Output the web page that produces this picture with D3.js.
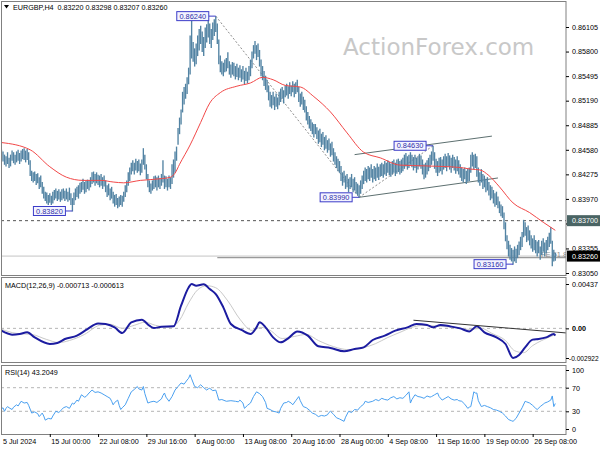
<!DOCTYPE html>
<html><head><meta charset="utf-8">
<script src="https://cdn.jsdelivr.net/npm/d3@7"></script>
<style>
html,body{margin:0;padding:0;background:#fff;}
svg{display:block;font-family:"Liberation Sans",Arial,sans-serif;}
</style></head><body>
<svg id="c" width="600" height="450"></svg>
<script>
// ---------------- DATA ----------------
const symbolTitle = "EURGBP,H4  0.83220 0.83298 0.83207 0.83260";
const macdTitle = "MACD(12,26,9) -0.000713 -0.000613";
const rsiTitle = "RSI(14) 43.2049";
const watermark = "ActionForex.com";

// H4 bars, 5 Jul 16:00 -> 30 Sep 20:00 (index 0..367)
const barLow = [
0.8446,0.8444,0.8440,0.8438,0.8441,0.8436,0.8438,0.8445,0.8442,0.8440,
0.8443,0.8445,0.8441,0.8444,0.8447,0.8446,0.8443,0.8446,0.8440,0.8426,
0.8420,0.8418,0.8420,0.8415,0.8417,0.8410,0.8412,0.8404,0.8398,0.8395,
0.8392,0.8390,0.8393,0.8390,0.8392,0.8396,0.8398,0.8395,0.8397,0.8394,
0.8396,0.8398,0.8395,0.8397,0.8394,0.8396,0.8390,0.8382,0.8390,0.8396,
0.8400,0.8398,0.8404,0.8406,0.8409,0.8404,0.8406,0.8410,0.8408,0.8412,
0.8416,0.8418,0.8414,0.8417,0.8415,0.8412,0.8414,0.8410,0.8413,0.8406,
0.8400,0.8402,0.8396,0.8398,0.8392,0.8388,0.8390,0.8386,0.8388,0.8390,
0.8388,0.8394,0.8400,0.8406,0.8414,0.8420,0.8428,0.8432,0.8428,0.8433,
0.8430,0.8432,0.8427,0.8430,0.8440,0.8434,0.8422,0.8412,0.8406,0.8404,
0.8408,0.8410,0.8412,0.8408,0.8412,0.8410,0.8414,0.8418,0.8410,0.8412,
0.8408,0.8412,0.8410,0.8416,0.8424,0.8430,0.8445,0.8465,0.8478,0.8490,
0.8505,0.8515,0.8522,0.8528,0.8540,0.8552,0.8572,0.8568,0.8562,0.8565,
0.8575,0.8582,0.8590,0.8580,0.8575,0.8585,0.8592,0.8598,0.8590,0.8585,
0.8595,0.8600,0.8605,0.8590,0.8565,0.8555,0.8552,0.8550,0.8555,0.8556,
0.8560,0.8552,0.8548,0.8552,0.8550,0.8546,0.8549,0.8545,0.8548,0.8543,
0.8546,0.8540,0.8544,0.8541,0.8545,0.8550,0.8560,0.8572,0.8578,0.8570,
0.8574,0.8562,0.8550,0.8545,0.8538,0.8533,0.8530,0.8520,0.8512,0.8510,
0.8514,0.8508,0.8512,0.8509,0.8514,0.8518,0.8522,0.8516,0.8524,0.8526,
0.8522,0.8528,0.8525,0.8530,0.8524,0.8528,0.8530,0.8518,0.8512,0.8515,
0.8508,0.8505,0.8495,0.8490,0.8485,0.8482,0.8478,0.8474,0.8478,0.8472,
0.8466,0.8468,0.8462,0.8465,0.8458,0.8460,0.8455,0.8458,0.8450,0.8452,
0.8444,0.8440,0.8436,0.8432,0.8430,0.8420,0.8414,0.8418,0.8410,0.8412,
0.8406,0.8410,0.8412,0.8406,0.8408,0.8404,0.8402,0.8399,0.8404,0.8410,
0.8416,0.8420,0.8418,0.8422,0.8420,0.8424,0.8418,0.8422,0.8420,0.8424,
0.8421,0.8425,0.8426,0.8424,0.8428,0.8426,0.8430,0.8427,0.8425,0.8428,
0.8430,0.8426,0.8429,0.8431,0.8428,0.8430,0.8432,0.8435,0.8438,0.8434,
0.8436,0.8440,0.8437,0.8433,0.8436,0.8430,0.8434,0.8438,0.8435,0.8428,
0.8422,0.8424,0.8428,0.8432,0.8436,0.8440,0.8445,0.8435,0.8430,0.8426,
0.8430,0.8432,0.8428,0.8434,0.8436,0.8432,0.8438,0.8434,0.8430,0.8436,
0.8433,0.8429,0.8432,0.8428,0.8424,0.8420,0.8418,0.8422,0.8416,0.8419,
0.8420,0.8430,0.8438,0.8434,0.8436,0.8425,0.8418,0.8414,0.8418,0.8410,
0.8412,0.8406,0.8408,0.8402,0.8396,0.8398,0.8392,0.8388,0.8390,0.8386,
0.8380,0.8376,0.8374,0.8360,0.8345,0.8335,0.8326,0.8322,0.8320,0.8316,
0.8320,0.8318,0.8324,0.8328,0.8334,0.8338,0.8350,0.8352,0.8344,0.8346,
0.8340,0.8336,0.8332,0.8334,0.8330,0.8326,0.8330,0.8322,0.8328,0.8332,
0.8326,0.8330,0.8334,0.8338,0.8342,0.8314,0.8320,0.83207];
const barHigh = [
0.8458,0.8456,0.8452,0.8450,0.8455,0.8448,0.8452,0.8457,0.8455,0.8452,
0.8456,0.8458,0.8454,0.8457,0.8459,0.8460,0.8457,0.8459,0.8455,0.8445,
0.8432,0.8430,0.8431,0.8428,0.8429,0.8424,0.8426,0.8418,0.8412,0.8406,
0.8405,0.8402,0.8404,0.8401,0.8406,0.8408,0.8410,0.8407,0.8409,0.8406,
0.8409,0.8410,0.8407,0.8410,0.8406,0.8411,0.8404,0.8398,0.8405,0.8410,
0.8412,0.8414,0.8417,0.8418,0.8422,0.8418,0.8420,0.8421,0.8420,0.8424,
0.8430,0.8431,0.8428,0.8430,0.8427,0.8426,0.8428,0.8424,0.8426,0.8420,
0.8414,0.8416,0.8410,0.8412,0.8406,0.8402,0.8403,0.8398,0.8400,0.8402,
0.8401,0.8406,0.8414,0.8420,0.8430,0.8436,0.8442,0.8445,0.8442,0.8447,
0.8444,0.8446,0.8441,0.8446,0.8460,0.8452,0.8440,0.8428,0.8420,0.8416,
0.8420,0.8425,0.8426,0.8424,0.8426,0.8423,0.8428,0.8445,0.8426,0.8425,
0.8422,0.8426,0.8424,0.8440,0.8446,0.8456,0.8462,0.8485,0.8498,0.8508,
0.8530,0.8536,0.8540,0.8548,0.8560,0.8600,0.8618,0.8592,0.8584,0.8590,
0.8600,0.8608,0.8612,0.8605,0.8598,0.8610,0.8614,0.8618,0.8615,0.8608,
0.8616,0.8620,0.8624,0.8615,0.8595,0.8575,0.8568,0.8566,0.8570,0.8572,
0.8579,0.8568,0.8564,0.8567,0.8566,0.8562,0.8565,0.8560,0.8563,0.8558,
0.8562,0.8556,0.8560,0.8555,0.8562,0.8570,0.8580,0.8588,0.8593,0.8588,
0.8590,0.8582,0.8570,0.8562,0.8556,0.8550,0.8545,0.8538,0.8530,0.8526,
0.8530,0.8524,0.8528,0.8523,0.8530,0.8534,0.8536,0.8532,0.8538,0.8540,
0.8537,0.8542,0.8538,0.8543,0.8540,0.8542,0.8545,0.8536,0.8528,0.8530,
0.8524,0.8520,0.8512,0.8505,0.8500,0.8496,0.8492,0.8490,0.8490,0.8486,
0.8482,0.8484,0.8478,0.8480,0.8474,0.8476,0.8470,0.8472,0.8466,0.8468,
0.8460,0.8455,0.8450,0.8447,0.8444,0.8438,0.8430,0.8432,0.8426,0.8428,
0.8422,0.8424,0.8428,0.8422,0.8424,0.8418,0.8416,0.8414,0.8420,0.8426,
0.8432,0.8436,0.8434,0.8438,0.8436,0.8440,0.8434,0.8438,0.8436,0.8441,
0.8437,0.8440,0.8442,0.8440,0.8444,0.8442,0.8445,0.8443,0.8441,0.8444,
0.8446,0.8442,0.8446,0.8447,0.8444,0.8446,0.8448,0.8452,0.8454,0.8450,
0.8452,0.8455,0.8452,0.8449,0.8452,0.8448,0.8450,0.8453,0.8451,0.8446,
0.8440,0.8442,0.8445,0.8448,0.8452,0.8456,0.8463,0.8455,0.8447,0.8444,
0.8448,0.8449,0.8446,0.8450,0.8453,0.8450,0.8454,0.8451,0.8448,0.8452,
0.8449,0.8446,0.8450,0.8445,0.8440,0.8436,0.8434,0.8436,0.8432,0.8434,
0.8436,0.8452,0.8455,0.8452,0.8453,0.8450,0.8436,0.8430,0.8434,0.8428,
0.8426,0.8422,0.8424,0.8418,0.8414,0.8412,0.8408,0.8404,0.8406,0.8400,
0.8394,0.8390,0.8388,0.8380,0.8368,0.8352,0.8345,0.8340,0.8336,0.8334,
0.8338,0.8335,0.8340,0.8344,0.8350,0.8356,0.8371,0.8368,0.8362,0.8364,
0.8358,0.8352,0.8348,0.8352,0.8346,0.8344,0.8346,0.8338,0.8345,0.8348,
0.8343,0.8346,0.8350,0.8355,0.8362,0.8345,0.8334,0.83298];

// Moving average (red), read at bar indices
const maIdx = [0,19,32,43,54,66,74,81,92,105,112,115,118,125,132,138,145,156,165,173,180,188,198,207,218,229,240,251,264,281,304,311,317,323,330,339,350,359,367];
const maVal = [0.8467,0.8458,0.8437,0.8424,0.8420,0.8420,0.8418,0.8417,0.8420,0.8422,0.8424,0.8429,0.8440,0.8464,0.8492,0.8516,0.8529,0.8537,0.8541,0.8548,0.8545,0.8538,0.8536,0.8524,0.8505,0.8479,0.8455,0.8448,0.8439,0.8438,0.8436,0.8434,0.8433,0.8426,0.8412,0.8392,0.8380,0.8368,0.8358];

// MACD main line
const macdIdx = [0,7,12,17,22,32,37,42,50,57,64,69,75,80,86,93,98,101,106,114,119,124,126,129,134,138,142,147,152,159,165,169,171,175,180,185,190,196,203,210,218,227,234,240,246,254,261,269,275,282,286,291,297,304,310,315,320,328,334,339,343,347,352,356,361,366,367];
const macdVal = [-0.00023,-0.00062,-0.00056,-0.00039,-0.00089,-0.00154,-0.00144,-0.00105,-0.00072,-0.00007,0.00049,0.00043,0.0001,-0.00046,0.00059,0.00085,0.00026,0.00003,0.00016,0.0002,0.00223,0.00403,0.00437,0.0042,0.00435,0.00387,0.00338,0.00207,0.00043,-0.00016,-0.00056,0.0001,0.00059,0.0001,-0.00089,-0.00138,-0.00098,-0.0003,-0.00072,-0.00177,-0.00193,-0.00226,-0.00203,-0.00187,-0.00115,-0.00072,-0.00023,0.0001,0.00043,0.00033,0.0001,0.00033,0.0002,0,-0.0003,0.0002,-0.00039,-0.00089,-0.00154,-0.00292,-0.00262,-0.00187,-0.00111,-0.00105,-0.00089,-0.00056,-0.000713];
// MACD signal line
const sigIdx = [0,10,20,30,38,45,55,65,72,80,88,95,102,112,118,124,130,136,142,150,158,166,172,178,186,194,202,210,220,230,240,248,256,264,272,280,290,300,310,318,325,334,340,346,352,358,364,367];
const sigVal = [-0.0001,-0.0005,-0.0006,-0.0011,-0.0014,-0.0012,-0.0006,0.0003,0.0004,0.0000,0.0003,0.0006,0.0003,0.0001,0.0008,0.0025,0.0038,0.0042,0.0040,0.0027,0.0009,-0.0002,0.0001,-0.0002,-0.0010,-0.0008,-0.0006,-0.0012,-0.0018,-0.0021,-0.0019,-0.0015,-0.0009,-0.0004,0.0001,0.0003,0.0002,0.0001,-0.0001,0.0000,-0.0005,-0.0012,-0.0022,-0.0024,-0.0017,-0.0012,-0.0008,-0.000613];

// RSI(14): [bar index, value]
const rsiSeries = [
[0,34],[1,36],[2,30],[3,35],[4,38],[5,36],[7,33],[8,37],[10,41],[11,39],[13,47],[15,44],[17,45],[18,40],[20,27],[22,29],[24,26],[25,21],[26,24],[27,27],[28,22],[29,15],[31,18],[33,17],[34,22],[36,30],[38,28],[40,33],[41,36],[43,38],[45,35],[47,44],[48,42],[50,49],[51,47],[53,58],[55,54],[56,55],[58,61],[60,66],[62,62],[64,63],[66,61],[68,58],[70,55],[72,52],[73,47],[74,41],[75,45],[77,49],[78,40],[79,33],[80,36],[82,41],[84,52],[86,63],[88,67],[90,72],[91,68],[93,66],[94,72],[95,60],[97,44],[99,46],[101,47],[103,45],[106,51],[107,57],[108,61],[109,54],[111,47],[113,55],[115,66],[117,72],[119,78],[121,76],[123,83],[124,86],[125,92],[126,85],[128,72],[130,70],[132,75],[134,70],[136,66],[137,68],[138,69],[140,65],[142,66],[143,58],[144,49],[146,50],[149,47],[152,48],[155,47],[157,46],[158,49],[160,44],[161,35],[163,40],[165,44],[167,55],[169,63],[171,60],[173,55],[175,45],[176,35],[178,33],[180,30],[182,29],[184,27],[185,35],[187,44],[189,45],[190,47],[192,44],[193,41],[195,48],[197,55],[198,48],[200,38],[202,36],[204,32],[206,27],[208,25],[210,21],[212,23],[214,22],[216,24],[217,28],[218,30],[220,25],[222,19],[224,17],[227,13],[228,20],[230,30],[232,28],[234,33],[236,32],[238,38],[240,42],[241,47],[243,45],[246,47],[248,50],[250,48],[252,52],[254,50],[256,49],[258,53],[260,55],[262,51],[264,53],[266,52],[268,57],[270,63],[271,44],[272,50],[274,58],[276,55],[278,54],[280,52],[282,56],[284,54],[285,55],[287,58],[289,61],[290,55],[292,49],[294,52],[296,55],[298,51],[300,49],[302,50],[303,48],[305,47],[307,42],[309,35],[310,37],[311,38],[312,50],[313,63],[314,61],[315,61],[316,48],[318,38],[320,40],[322,38],[324,36],[326,33],[328,32],[330,30],[332,27],[334,22],[336,16],[338,14],[339,13],[341,18],[343,27],[345,36],[347,47],[348,46],[350,44],[352,40],[354,35],[355,33],[357,38],[359,42],[360,44],[362,46],[364,49],[365,56],[366,38],[367,43.2049]];

// axes
const timeTickIdx = [0,32,64,96,128,160,192,224,256,288,320,352];
const timeTickLabels = ["5 Jul 2024","15 Jul 00:00","22 Jul 08:00","29 Jul 16:00","6 Aug 00:00","13 Aug 08:00","20 Aug 16:00","28 Aug 00:00","4 Sep 08:00","11 Sep 16:00","19 Sep 00:00","26 Sep 08:00"];
const priceTicks = [0.86105,0.85800,0.85495,0.85190,0.84885,0.84580,0.84275,0.83970,0.83665,0.83355,0.83050];
const macdTicks = [0.00437,0,-0.002922];
const macdTickLabels = ["0.00437","0.00","-0.002922"];
const rsiTicks = [100,70,30,0];
const rsiLevels = [70,30];

// annotations (swing high/low labels)
const markIdx = [142,47,237,286,339];
const markPrice = [0.86240,0.83820,0.83990,0.84630,0.83160];
// drawn lines: [idx1, price1, idx2, price2]
const channelLines = [[234,0.8452,325,0.8475],[237,0.8399,329,0.8423]];
const dashedLines = [[142,0.8624,237,0.8399],[237,0.8399,286,0.8463]];
const macdTrend = [273,0.0008,374,-0.00045];
const levelPrice = 0.83700;
const bidPrice = 0.83260;
const supportPrice = 0.83240, supportStartIdx = 143;

// ---------------- DRAW ----------------
const svg = d3.select("#c");
const L = 1, R = 566;
const P = {main:[1,275], macd:[277,362], rsi:[365,434]};
const font = "'Liberation Sans',Arial,sans-serif";

const x = d3.scaleLinear().domain([0,367]).range([1.5,555.3]);
const yP = d3.scaleLinear().domain([0.83050,0.86105]).range([273,27]);
const yM = d3.scaleLinear().domain([-0.002922,0.00437]).range([358,284]);
const yR = d3.scaleLinear().domain([0,100]).range([429,370]);

const defs = svg.append("defs");
Object.entries(P).forEach(([k,[t,b]])=>{
  defs.append("clipPath").attr("id","clip-"+k).append("rect")
    .attr("x",L).attr("y",t).attr("width",R-L).attr("height",b-t);
});

// watermark
svg.append("text").attr("x",343).attr("y",55).attr("font-family","'DejaVu Sans',sans-serif")
  .attr("font-size",23).attr("fill","#c8c8c8").text(watermark);

const gMain = svg.append("g").attr("clip-path","url(#clip-main)");

// horizontal level lines
gMain.append("line").attr("x1",L).attr("x2",R).attr("y1",yP(bidPrice)).attr("y2",yP(bidPrice))
  .attr("stroke","#c4c4c4").attr("stroke-width",1);
gMain.append("line").attr("x1",x(supportStartIdx)).attr("x2",R).attr("y1",yP(supportPrice)).attr("y2",yP(supportPrice))
  .attr("stroke","#9a9a9a").attr("stroke-width",1.2);
gMain.append("line").attr("x1",L).attr("x2",R).attr("y1",yP(levelPrice)).attr("y2",yP(levelPrice))
  .attr("stroke","#555").attr("stroke-dasharray","3,3");

// FE text
gMain.append("text").attr("x",541).attr("y",257).attr("font-size",7.5).attr("font-family",font)
  .attr("fill","#8a8a8a").text("FE 61.8");

// dashed and channel lines
gMain.selectAll("line.dash").data(dashedLines).join("line")
  .attr("x1",d=>x(d[0])).attr("y1",d=>yP(d[1])).attr("x2",d=>x(d[2])).attr("y2",d=>yP(d[3]))
  .attr("stroke","#8c8c8c").attr("stroke-dasharray","2,2");
gMain.selectAll("line.chan").data(channelLines).join("line")
  .attr("x1",d=>x(d[0])).attr("y1",d=>yP(d[1])).attr("x2",d=>x(d[2])).attr("y2",d=>yP(d[3]))
  .attr("stroke","#5d7070").attr("stroke-width",1);

// price bars
const bars = barHigh.map((h,i)=>({i,h,l:barLow[i]}));
gMain.selectAll("line.bar").data(bars).join("line").attr("class","bar")
  .attr("x1",d=>x(d.i)).attr("x2",d=>x(d.i))
  .attr("y1",d=>yP(d.h)).attr("y2",d=>yP(d.l)+0.5)
  .attr("stroke","#5283a3").attr("stroke-width",1.35);

// moving average
gMain.append("path").datum(maIdx.map((d,i)=>[d,maVal[i]]))
  .attr("d",d3.line().x(d=>x(d[0])).y(d=>yP(d[1])).curve(d3.curveMonotoneX))
  .attr("fill","none").attr("stroke","#f24848").attr("stroke-width",1);

// swing labels
markIdx.forEach((mi,k)=>{
  const px = x(mi), py = yP(markPrice[k]);
  const bw = 32, bh = 9, bx = px-7-bw;
  gMain.append("line").attr("x1",bx+bw).attr("x2",px).attr("y1",py).attr("y2",py).attr("stroke","#3c3cc8");
  gMain.append("rect").attr("x",bx).attr("y",py-bh/2).attr("width",bw).attr("height",bh)
    .attr("fill","#f3f3ff").attr("stroke","#3c3cc8").attr("stroke-width",1);
  gMain.append("text").attr("x",bx+bw/2).attr("y",py+2.6).attr("text-anchor","middle")
    .attr("font-family",font).attr("font-size",7.4).attr("fill","#2e2ea8").text(d3.format(".5f")(markPrice[k]));
});

// title
svg.append("path").attr("d","M4,5 L9,5 L6.5,8.5 Z").attr("fill","#000");
svg.append("text").attr("x",13).attr("y",10).attr("font-family",font).attr("font-size",7.2)
  .attr("fill","#000").style("white-space","pre").text(symbolTitle);

// ---- MACD panel
const gM = svg.append("g").attr("clip-path","url(#clip-macd)");
gM.append("line").attr("x1",L).attr("x2",R).attr("y1",yM(0)).attr("y2",yM(0))
  .attr("stroke","#b5b5b5").attr("stroke-dasharray","3,3");
gM.append("path").datum(sigIdx.map((d,i)=>[d,sigVal[i]]))
  .attr("d",d3.line().x(d=>x(d[0])).y(d=>yM(d[1])).curve(d3.curveMonotoneX))
  .attr("fill","none").attr("stroke","#c9c9c9").attr("stroke-width",1);
gM.append("path").datum(macdIdx.map((d,i)=>[d,macdVal[i]]))
  .attr("d",d3.line().x(d=>x(d[0])).y(d=>yM(d[1])).curve(d3.curveMonotoneX))
  .attr("fill","none").attr("stroke","#1c1ca0").attr("stroke-width",2);
gM.append("line").attr("x1",x(macdTrend[0])).attr("y1",yM(macdTrend[1]))
  .attr("x2",x(macdTrend[2])).attr("y2",yM(macdTrend[3])).attr("stroke","#333").attr("stroke-width",1);
svg.append("text").attr("x",5).attr("y",288).attr("font-family",font).attr("font-size",7.2).attr("fill","#000").text(macdTitle);

// ---- RSI panel
const gR = svg.append("g").attr("clip-path","url(#clip-rsi)");
gR.selectAll("line.lvl").data(rsiLevels).join("line")
  .attr("x1",L).attr("x2",R).attr("y1",d=>yR(d)).attr("y2",d=>yR(d))
  .attr("stroke","#b5b5b5").attr("stroke-dasharray","3,3");
gR.append("path").datum(rsiSeries)
  .attr("d",d3.line().x(d=>x(d[0])).y(d=>yR(d[1])))
  .attr("fill","none").attr("stroke","#4aa0f0").attr("stroke-width",1);
svg.append("text").attr("x",5).attr("y",375).attr("font-family",font).attr("font-size",7.2).attr("fill","#000").text(rsiTitle);

// ---- frames
Object.values(P).forEach(([t,b])=>{
  svg.append("rect").attr("x",L+0.5).attr("y",t+0.5).attr("width",R-L-0.5).attr("height",b-t)
    .attr("fill","none").attr("stroke","#808080").attr("stroke-width",1);
});

// ---- axes
function styleAxis(g){
  g.select(".domain").remove();
  g.selectAll("line").attr("stroke","#000");
  g.selectAll("text").attr("font-family",font).attr("font-size",7.2).attr("fill","#000");
}
svg.append("g").attr("transform",`translate(${R},0)`)
  .call(d3.axisRight(yP).tickValues(priceTicks).tickFormat(d3.format(".5f")).tickSize(3).tickPadding(3))
  .call(styleAxis);
svg.append("g").attr("transform",`translate(${R},0)`)
  .call(d3.axisRight(yM).tickValues(macdTicks).tickFormat((d,i)=>macdTickLabels[i]).tickSize(3).tickPadding(3))
  .call(styleAxis)
  .call(g=>g.selectAll("text").filter(d=>d===0).attr("font-weight","bold"))
  .call(g=>g.selectAll("text").filter(d=>d<0).attr("x",3).attr("font-size",6.6));
svg.append("g").attr("transform",`translate(${R},0)`)
  .call(d3.axisRight(yR).tickValues(rsiTicks).tickSize(3).tickPadding(3))
  .call(styleAxis);
svg.append("g").attr("transform",`translate(0,${P.rsi[1]})`)
  .call(d3.axisBottom(x).tickValues(timeTickIdx).tickFormat((d,i)=>timeTickLabels[i]).tickSize(3).tickPadding(2))
  .call(styleAxis)
  .call(g=>g.selectAll("text").attr("text-anchor","start").attr("x",1))
  .call(g=>g.selectAll(".tick").filter(d=>d===0).select("line").remove());

// highlighted price tags
[[levelPrice,"#4a6464"],[bidPrice,"#000"]].forEach(([p,c])=>{
  const yy = yP(p);
  svg.append("rect").attr("x",R+1).attr("y",yy-5.5).attr("width",600-R-1).attr("height",11).attr("fill",c);
  svg.append("text").attr("x",R+6).attr("y",yy+2.6).attr("font-family",font).attr("font-size",7.2)
    .attr("fill","#fff").text(d3.format(".5f")(p));
});
</script>
</body></html>
